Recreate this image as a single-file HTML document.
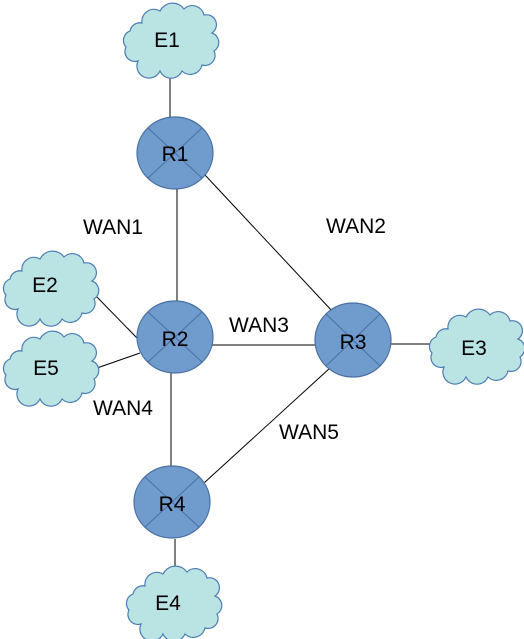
<!DOCTYPE html>
<html><head><style>body{margin:0;background:#fff}svg{display:block}</style></head>
<body>
<svg width="524" height="639" viewBox="0 0 524 639" xmlns="http://www.w3.org/2000/svg" font-family="Liberation Sans, sans-serif">
<defs>
<path id="cl" d="M20,20 a12,12 0 0 1 18,-12 a14,14 0 0 1 24,-2 a12,12 0 0 1 20,6 a10,10 0 0 1 8,18 a10,10 0 0 1 2,18 a10,10 0 0 1 -12,14 a12,12 0 0 1 -20,6 a12,12 0 0 1 -22,0 a12,12 0 0 1 -22,-10 a10,10 0 0 1 -12,-14 a10,10 0 0 1 4,-16 a10,10 0 0 1 12,-8 z" fill="#bae3e3" stroke="#4c7db4" stroke-width="1.2"/>
</defs>
<g stroke="#000" stroke-width="1">
<line x1="170" y1="75" x2="170" y2="117"/>
<line x1="177" y1="189" x2="177" y2="301"/>
<line x1="205" y1="175" x2="333" y2="312"/>
<line x1="212" y1="345" x2="316" y2="345"/>
<line x1="391" y1="344" x2="432" y2="344"/>
<line x1="95" y1="295" x2="137" y2="338"/>
<line x1="97" y1="368" x2="140" y2="353"/>
<line x1="171" y1="373" x2="171" y2="466"/>
<line x1="330" y1="368" x2="204" y2="483"/>
<line x1="175" y1="539" x2="175" y2="567"/>
</g>
<use href="#cl" transform="translate(122,3)"/>
<use href="#cl" transform="translate(2,251)"/>
<use href="#cl" transform="translate(2,331)"/>
<use href="#cl" transform="translate(428,309)"/>
<use href="#cl" transform="translate(125,566)"/>
<g fill="#6f9bcd" stroke="#4a6fa3" stroke-width="1.2">
<ellipse cx="175" cy="153" rx="38" ry="36"/>
<ellipse cx="175" cy="337" rx="38" ry="36"/>
<ellipse cx="353" cy="340" rx="38" ry="37"/>
<ellipse cx="172" cy="502" rx="38" ry="36"/>
</g>
<g stroke="#4a6fa3" stroke-width="1">
<path d="M148,128 L202,178 M202,128 L148,178"/>
<path d="M148,312 L202,362 M202,312 L148,362"/>
<path d="M326,314 L380,366 M380,314 L326,366"/>
<path d="M145,477 L199,527 M199,477 L145,527"/>
</g>
<g font-size="21" fill="#000" text-anchor="middle">
<text x="167" y="47">E1</text>
<text x="175" y="161">R1</text>
<text x="45" y="292">E2</text>
<text x="46" y="375">E5</text>
<text x="175" y="346">R2</text>
<text x="353" y="349">R3</text>
<text x="474" y="355">E3</text>
<text x="172" y="511">R4</text>
<text x="168" y="610">E4</text>
<text x="113" y="234">WAN1</text>
<text x="356" y="233">WAN2</text>
<text x="259" y="332">WAN3</text>
<text x="123" y="415">WAN4</text>
<text x="309" y="439">WAN5</text>
</g>
</svg>
</body></html>
